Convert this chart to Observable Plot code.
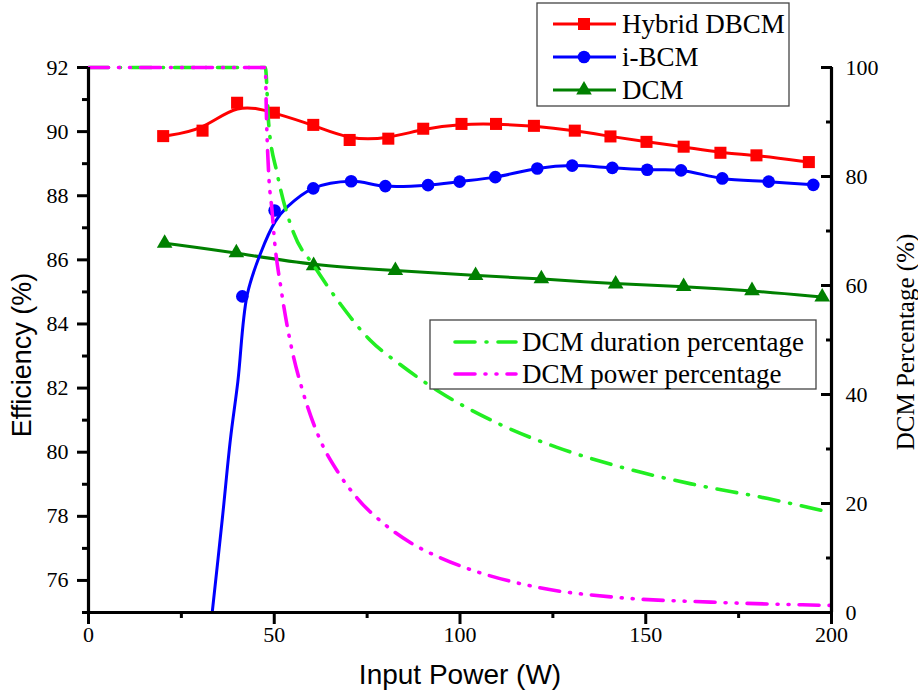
<!DOCTYPE html>
<html><head><meta charset="utf-8">
<script src="https://cdn.jsdelivr.net/npm/d3@7"></script>
<script src="https://cdn.jsdelivr.net/npm/@observablehq/plot@0.6"></script>
<style>
body{margin:0;background:#fff;}
#wrap{position:relative;width:918px;height:700px;overflow:hidden;}
#wrap svg.overlay{position:absolute;left:0;top:0;}
</style></head><body><div id="wrap"></div>
<script>
// ---- data ----
const powerHybrid = [20.1,30.7,40.0,49.9,60.5,70.3,80.7,90.1,100.4,109.7,119.9,130.9,140.5,150.2,160.2,170.1,179.8,193.9];
const effHybrid   = [89.86,90.03,90.90,90.59,90.21,89.74,89.78,90.09,90.24,90.24,90.18,90.03,89.85,89.68,89.53,89.34,89.26,89.05];
const powerIBCM = [41.4,50.1,60.5,70.7,79.9,91.4,99.9,109.5,120.8,130.2,141.0,150.4,159.5,170.6,183.1,195.1];
const effIBCM   = [84.86,87.54,88.23,88.45,88.30,88.33,88.44,88.58,88.85,88.94,88.87,88.81,88.79,88.54,88.44,88.34];
const fitPowerIBCM = [33.3,36.0,38.2,40.2,42.7,46.3,50.3,53.5];
const fitEffIBCM   = [75.0,77.9,80.4,82.2,84.9,86.2,87.2,87.65];
const powerDCM = [20.5,39.8,60.6,82.6,104.2,121.9,141.9,160.2,178.6,197.5];
const effDCM   = [86.52,86.22,85.82,85.67,85.51,85.41,85.25,85.17,85.04,84.84];
const durPower = [0,47.6,48.5,50.8,55.3,60.6,67.8,75.9,83.7,94.0,110.5,126.1,141.6,162.2,182.9,199.4];
const durPct   = [100,100,89.7,80.5,69.5,63.7,56.6,49.9,45.6,40.7,34.6,30.3,27.0,23.6,20.9,18.4];
const pwrPower = [0,47.6,47.9,48.5,49.4,49.9,51.9,54.8,57.5,62.4,67.4,72.3,79.5,86.7,95.2,100.3,121.0,141.7,167.6,199.6];
const pwrPct   = [100,100,91,80.5,73.8,69.5,59.1,48.1,41.0,31.6,25.5,21.0,16.3,12.8,9.9,8.5,4.6,2.8,1.9,1.3];
const xMajor = [0,50,100,150,200], xMinor = [25,75,125,175];
const yMajor = [76,78,80,82,84,86,88,90,92], yMinor = [75,77,79,81,83,85,87,89,91];
const pMajor = [0,20,40,60,80,100], pMinor = [10,30,50,70,90];
const seriesNames = ["Hybrid DBCM","i-BCM","DCM"];
const dashNames = ["DCM duration percentage","DCM power percentage"];
const titleX = "Input Power (W)", titleY = "Efficiency (%)", titleY2 = "DCM Percentage (%)";

// ---- helpers ----
const serif = '"Liberation Serif","Times New Roman",serif';
const sans = '"Liberation Sans",Arial,sans-serif';
const effMin = 75, effMax = 92;
const toEff = p => effMin + p * (effMax - effMin) / 100;
const zip = (xs, ys, f = v => v) => xs.map((x, i) => ({x, y: f(ys[i])}));
const none = () => "";

const hybrid = zip(powerHybrid, effHybrid);
const ibcm = zip(powerIBCM, effIBCM);
const ibcmLine = zip(fitPowerIBCM, fitEffIBCM).concat(ibcm.slice(2));
const dcm = zip(powerDCM, effDCM);
const dur = zip(durPower, durPct, toEff);
const pwr = zip(pwrPower, pwrPct, toEff);

const RED = "#ff0000", BLUE = "#0000ff", GREEN = "#008000", LIME = "#22ee22", MAG = "#ff00ff";
const DUR_DASH = "20,11,1,11", PWR_DASH = "20,10,1,10,1,10";
const ax = {strokeWidth: 3, tickFormat: none, label: null};
const lab = {fontFamily: serif, fontSize: 22, fill: "black"};

const plot = Plot.plot({
  width: 918, height: 700,
  marginLeft: 88, marginRight: 87, marginTop: 67, marginBottom: 88,
  x: {domain: [0, 200]},
  y: {domain: [effMin, effMax]},
  style: {background: "white", fontFamily: serif, color: "black"},
  marks: [
    Plot.line(dcm, {x: "x", y: "y", stroke: GREEN, strokeWidth: 3, curve: "basis"}),
    Plot.dot(dcm, {x: "x", y: "y", symbol: "triangle", r: 5.8, fill: GREEN}),
    Plot.line(ibcmLine, {x: "x", y: "y", stroke: BLUE, strokeWidth: 3, curve: "catmull-rom"}),
    Plot.dot(ibcm, {x: "x", y: "y", symbol: "circle", r: 6.3, fill: BLUE}),
    Plot.line(hybrid, {x: "x", y: "y", stroke: RED, strokeWidth: 3, curve: "basis"}),
    Plot.dot(hybrid, {x: "x", y: "y", symbol: "square", r: 6.8, fill: RED}),
    Plot.line(dur, {x: "x", y: "y", stroke: LIME, strokeWidth: 3.6, curve: "monotone-x", strokeDasharray: DUR_DASH, strokeLinecap: "round"}),
    Plot.line(pwr, {x: "x", y: "y", stroke: MAG, strokeWidth: 3.6, curve: "monotone-x", strokeDasharray: PWR_DASH, strokeLinecap: "round"}),
    // axis ticks
    Plot.axisX({...ax, ticks: xMajor, tickSize: 12}),
    Plot.axisX({...ax, ticks: xMinor, tickSize: 6}),
    Plot.axisY({...ax, ticks: yMajor, tickSize: 11}),
    Plot.axisY({...ax, ticks: yMinor, tickSize: 6}),
    Plot.axisY({...ax, anchor: "right", ticks: pMajor.map(toEff), tickSize: 11, dx: -11}),
    Plot.axisY({...ax, anchor: "right", ticks: pMinor.map(toEff), tickSize: 6, dx: -6}),
    // tick labels (serif)
    Plot.text(xMajor, {...lab, x: d => d, text: d => String(d), frameAnchor: "bottom", textAnchor: "middle", dy: 29}),
    Plot.text(yMajor, {...lab, y: d => d, text: d => String(d), frameAnchor: "left", textAnchor: "end", dx: -20}),
    Plot.text(pMajor, {...lab, y: d => toEff(d), text: d => String(d), frameAnchor: "right", textAnchor: "start", dx: 14}),
    // axis lines
    Plot.ruleX([0], {strokeWidth: 3.2}),
    Plot.ruleX([200], {strokeWidth: 3.2}),
    Plot.ruleY([effMin], {strokeWidth: 3.2}),
    // axis titles
    Plot.text([titleY], {text: d => d, frameAnchor: "left", textAnchor: "middle", dx: -66, dy: 15, rotate: -90, fontSize: 27, fontFamily: sans}),
    Plot.text([titleX], {text: d => d, frameAnchor: "bottom", textAnchor: "middle", dy: 71, fontSize: 28, fontFamily: sans}),
    Plot.text([titleY2], {text: d => d, frameAnchor: "right", textAnchor: "middle", dx: 74, dy: 2, rotate: -90, fontSize: 25, fontFamily: serif})
  ]
});
const wrap = document.getElementById("wrap");
wrap.appendChild(plot);

// ---- legends (overlay) ----
const ov = d3.select(wrap).append("svg").attr("class", "overlay").attr("width", 918).attr("height", 700);
function box(x, y, w, h) {
  ov.append("rect").attr("x", x).attr("y", y).attr("width", w).attr("height", h)
    .attr("fill", "white").attr("stroke", "#444").attr("stroke-width", 1.3);
}
box(537, 3, 252, 103);
const sym = {square: d3.symbolSquare, circle: d3.symbolCircle, triangle: d3.symbolTriangle};
const leg1 = [
  {name: seriesNames[0], color: RED, s: "square", r: 6.8},
  {name: seriesNames[1], color: BLUE, s: "circle", r: 6.3},
  {name: seriesNames[2], color: GREEN, s: "triangle", r: 5.8}
];
leg1.forEach((d, i) => {
  const cy = 24 + i * 33;
  ov.append("line").attr("x1", 553).attr("x2", 616).attr("y1", cy).attr("y2", cy).attr("stroke", d.color).attr("stroke-width", 3);
  ov.append("path").attr("transform", `translate(584,${cy})`).attr("d", d3.symbol(sym[d.s], Math.PI * d.r * d.r)()).attr("fill", d.color);
  ov.append("text").attr("x", 622).attr("y", cy + 8.5).attr("font-family", serif).attr("font-size", 27).text(d.name);
});
box(430, 320, 386, 69);
const leg2 = [
  {name: dashNames[0], color: LIME, dash: DUR_DASH},
  {name: dashNames[1], color: MAG, dash: PWR_DASH}
];
leg2.forEach((d, i) => {
  const cy = 342 + i * 32;
  ov.append("line").attr("x1", 455).attr("x2", 516).attr("y1", cy).attr("y2", cy).attr("stroke", d.color)
    .attr("stroke-width", 3.6).attr("stroke-dasharray", d.dash).attr("stroke-linecap", "round");
  ov.append("text").attr("x", 522).attr("y", cy + 8.5).attr("font-family", serif).attr("font-size", 27).text(d.name);
});
</script></body></html>
